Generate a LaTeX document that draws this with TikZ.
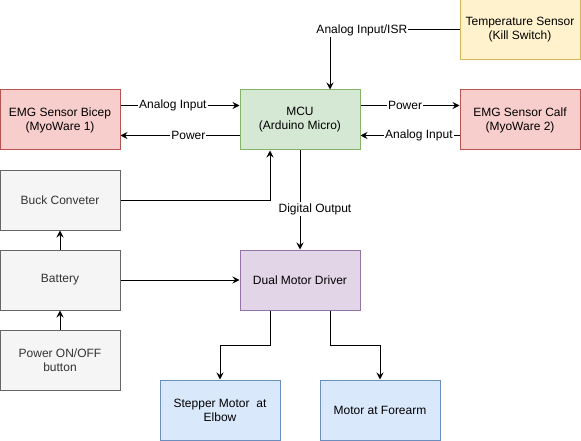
\documentclass[tikz,border=0pt]{standalone}
\usepackage{fontspec}
\setmainfont{Liberation Sans}
\usetikzlibrary{arrows.meta}
\definecolor{redF}{HTML}{F8CECC}\definecolor{redS}{HTML}{B85450}
\definecolor{grnF}{HTML}{D5E8D4}\definecolor{grnS}{HTML}{82B366}
\definecolor{ylwF}{HTML}{FFF2CC}\definecolor{ylwS}{HTML}{D6B656}
\definecolor{purF}{HTML}{E1D5E7}\definecolor{purS}{HTML}{9673A6}
\definecolor{bluF}{HTML}{DAE8FC}\definecolor{bluS}{HTML}{6C8EBF}
\definecolor{gryF}{HTML}{F5F5F5}\definecolor{gryS}{HTML}{666666}
\definecolor{gryT}{HTML}{333333}
\tikzset{
  box/.style={rectangle, draw, line width=1pt, minimum width=120pt, minimum height=60pt,
    align=center, inner sep=2pt, font=\fontsize{12}{14}\selectfont},
  redbox/.style={box, fill=redF, draw=redS},
  grnbox/.style={box, fill=grnF, draw=grnS},
  ylwbox/.style={box, fill=ylwF, draw=ylwS},
  purbox/.style={box, fill=purF, draw=purS},
  blubox/.style={box, fill=bluF, draw=bluS},
  grybox/.style={box, fill=gryF, draw=gryS, text=gryT},
  arr/.style={draw, line width=1pt, -{Stealth[length=7pt, width=7pt, inset=2.5pt]}},
  lbl/.style={fill=white, inner sep=1pt, font=\fontsize{12}{14}\selectfont}
}
\begin{document}
\begin{tikzpicture}[x=1pt, y=-1pt]
\useasboundingbox (0,0) rectangle (581,441);
\node[ylwbox] (temp) at (520,30) {Temperature Sensor\\(Kill Switch)};
\node[grnbox] (mcu) at (300,120) {MCU\\(Arduino Micro)};
\node[redbox] (calf) at (520,120) {EMG Sensor Calf\\(MyoWare 2)};
\node[redbox] (bicep) at (60,120) {EMG Sensor Bicep\\(MyoWare 1)};
\node[grybox] (buck) at (60,200) {Buck Conveter};
\node[grybox] (battery) at (60,280) {Battery};
\node[grybox] (button) at (60,360) {Power ON/OFF\\button};
\node[purbox] (driver) at (300,280) {Dual Motor Driver};
\node[blubox] (stepper) at (220,410) {Stepper Motor\ \ at\\Elbow};
\node[blubox] (forearm) at (380,410) {Motor at Forearm};

\draw[arr] (temp.west) -| node[lbl, pos=0.377] {Analog Input/ISR} ([xshift=30pt]mcu.north);
\draw[arr] ([yshift=14.5pt]mcu.east) -- node[lbl, pos=0.45] {Power} ([yshift=14.5pt]calf.west);
\draw[arr] ([yshift=-15.5pt]calf.west) -- node[lbl, pos=0.41] {Analog Input} ([yshift=-15.5pt]mcu.east);
\draw[arr] ([yshift=14.5pt]bicep.east) -- node[lbl, pos=0.44] {Analog Input} ([yshift=14.5pt]mcu.west);
\draw[arr] ([yshift=-15.5pt]mcu.west) -- node[lbl, pos=0.43] {Power} ([yshift=-15.5pt]bicep.east);
\draw[arr] (buck.east) -| ([xshift=-30pt]mcu.south);
\draw[arr] (mcu.south) -- node[lbl, pos=0.59, xshift=15pt] {Digital Output} (driver.north);
\draw[arr] (battery.north) -- (buck.south);
\draw[arr] (button.north) -- (battery.south);
\draw[arr] (battery.east) -- (driver.west);
\draw[arr] ([xshift=-30pt]driver.south) -- ++(0,35) -| (stepper.north);
\draw[arr] ([xshift=30pt]driver.south) -- ++(0,35) -| (forearm.north);
\end{tikzpicture}
\end{document}
